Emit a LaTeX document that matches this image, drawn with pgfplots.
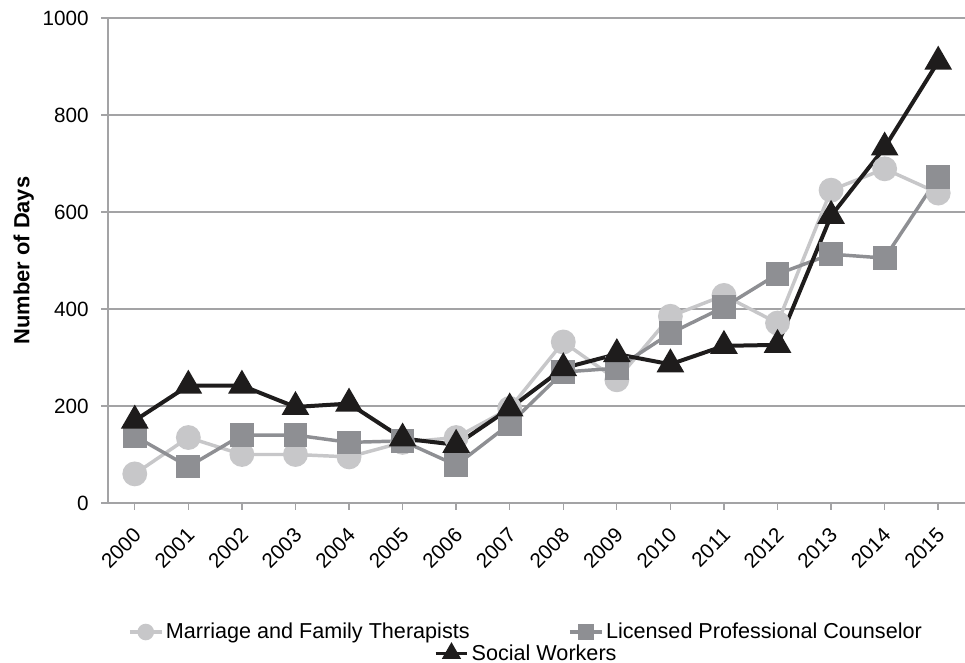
\documentclass[border=0pt]{standalone}
\usepackage{fontspec}
\setmainfont{Liberation Sans}
\usepackage{pgfplots}
\pgfplotsset{compat=1.18}

\definecolor{mft}{HTML}{C7C7C9}
\definecolor{lpc}{HTML}{8E8F93}
\definecolor{sw}{HTML}{1E1C1C}
\definecolor{gridc}{HTML}{A3A3A5}

\begin{document}
\begin{tikzpicture}
% page = 965x663 px at 0.75pt/px; plot area lower-left at (0,0)
\useasboundingbox (-81pt,-120pt) rectangle (642.75pt,377.25pt);
\begin{axis}[
  at={(0,0)}, anchor=south west,
  scale only axis,
  width=642.75pt, height=363.75pt,
  xmin=1999.5, xmax=2015.5,
  ymin=0, ymax=1000,
  xtick={2000,...,2015},
  ytick={0,200,...,1000},
  axis x line*=bottom, axis y line*=left,
  axis line style={gridc, line width=1.1pt},
  x axis line style={-}, y axis line style={-},
  ymajorgrids, grid style={gridc, line width=1.1pt},
  major tick length=5pt,
  tick style={gridc, line width=1pt},
  tick align=outside,
  xticklabel shift=11pt,
  xticklabel style={xshift=-2pt, rotate=45, anchor=north east,
    font=\fontsize{15.5}{18}\selectfont, inner sep=1pt},
  yticklabel style={font=\fontsize{15.5}{18}\selectfont, xshift=-6pt},
  /pgf/number format/assume math mode=true,
  /pgf/number format/1000 sep={},
  ylabel={\bfseries Number of Days},
  ylabel style={font=\fontsize{16.4}{19}\selectfont, at={(rel axis cs:0,0.5)}, yshift=52pt},
  clip=false,
  legend style={draw=none, font=\fontsize{16.2}{19}\selectfont, at={(0.0233,-0.266)}, anchor=west,
    /tikz/every even column/.append style={column sep=72pt}, inner sep=0pt},
  legend columns=2,
  legend cell align=left,
  legend image code/.code={\draw[mark repeat=2, mark phase=2, mark size=5pt, line width=2.4pt]
    plot coordinates {(0cm,0cm) (0.42cm,0cm) (0.84cm,0cm)};},
]
\addplot[color=mft, line width=2.6pt, mark=*, mark size=8pt] coordinates {
  (2000,60) (2001,135) (2002,100) (2003,100) (2004,95) (2005,125) (2006,135) (2007,195)
  (2008,332) (2009,254) (2010,385) (2011,428) (2012,371) (2013,645) (2014,689) (2015,639)};
\addlegendentry{Marriage and Family Therapists}
\addplot[color=lpc, line width=2.6pt, mark=square*, mark size=7.6pt] coordinates {
  (2000,138) (2001,75) (2002,140) (2003,140) (2004,125) (2005,128) (2006,78) (2007,163)
  (2008,270) (2009,278) (2010,350) (2011,404) (2012,472) (2013,513) (2014,505) (2015,672)};
\addlegendentry{Licensed Professional Counselor}
\addplot[color=sw, line width=3pt, mark=triangle*, mark size=9pt] coordinates {
  (2000,170) (2001,242) (2002,242) (2003,198) (2004,205) (2005,133) (2006,120) (2007,195)
  (2008,278) (2009,307) (2010,286) (2011,324) (2012,326) (2013,592) (2014,733) (2015,910)};
\node[font=\fontsize{20}{24}\selectfont\bfseries, anchor=base] at (rel axis cs:0.489,1.055) {FYC 2000 - 2015};
\end{axis}
\begin{axis}[
  at={(0,0)}, anchor=south west,
  scale only axis,
  width=642.75pt, height=363.75pt,
  xmin=0, xmax=1, ymin=0, ymax=1,
  hide axis,
  legend style={draw=none, font=\fontsize{16.2}{19}\selectfont, at={(0.38,-0.31)}, anchor=west, inner sep=0pt},
  legend image code/.code={\draw[mark repeat=2, mark phase=2, mark size=6pt, line width=2.4pt]
    plot coordinates {(0cm,0cm) (0.42cm,0cm) (0.84cm,0cm)};},
]
\addlegendimage{color=sw, mark=triangle*}
\addlegendentry{Social Workers}
\end{axis}
\end{tikzpicture}
\end{document}
